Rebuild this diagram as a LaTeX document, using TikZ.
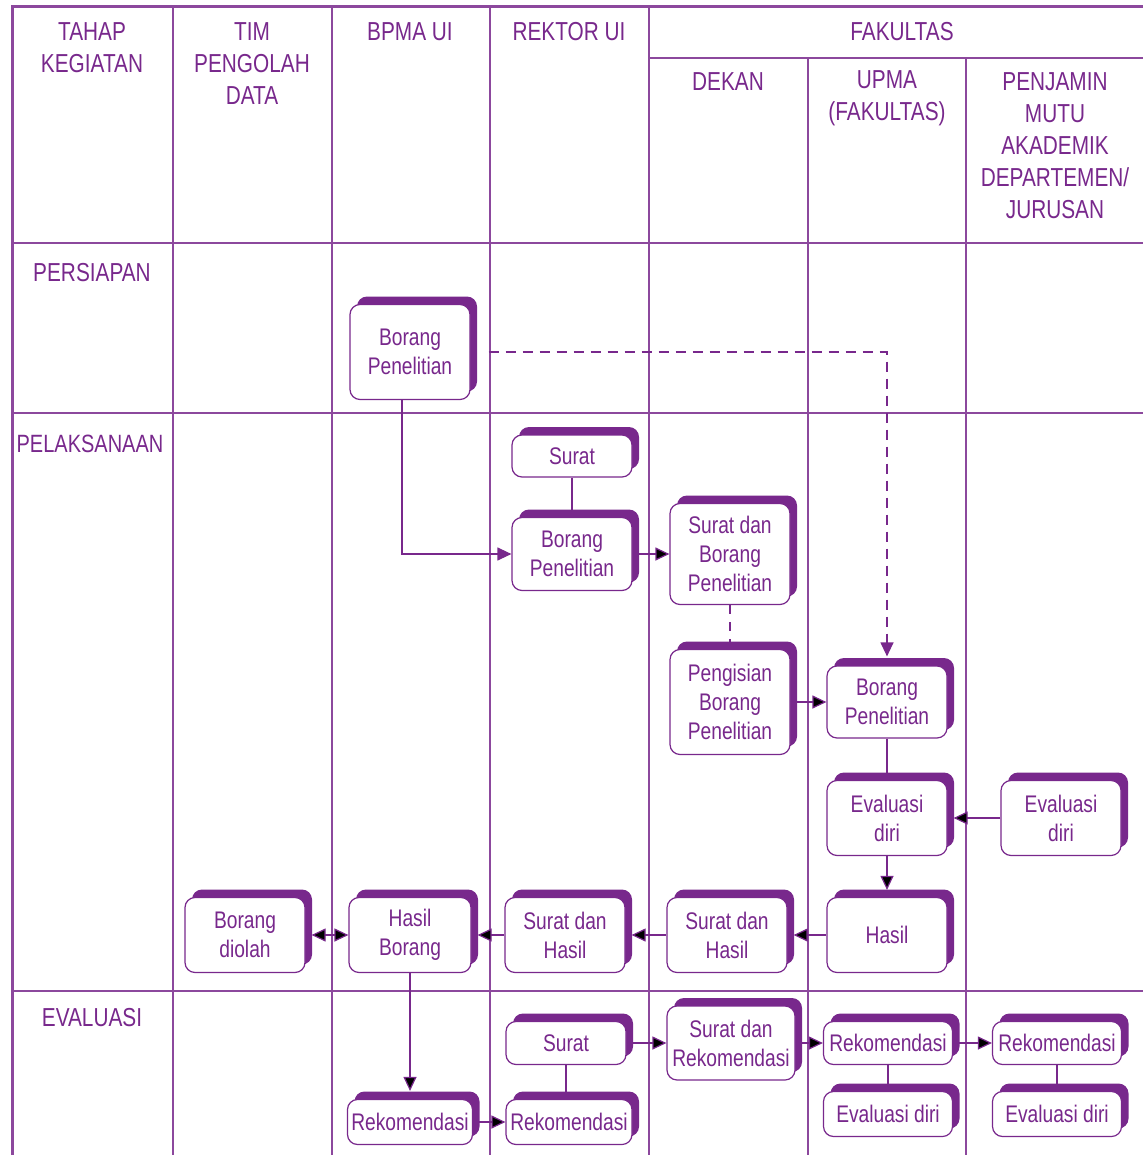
\documentclass[tikz,border=0pt]{standalone}
\usepackage{fontspec}
\setmainfont{Liberation Sans}[FakeStretch=0.8]
\usetikzlibrary{arrows.meta,shadows}
\definecolor{purp}{RGB}{120,40,140}

\begin{document}
\begin{tikzpicture}[x=1pt,y=-1pt,>={Triangle[length=14pt,width=13pt]},
                    semithick]
    \tikzset{grid/.style={draw=purp!85,line width=1.2pt},
             head/.style={text=purp,inner sep=0pt,align=center,
                          font=\fontsize{26}{32}\selectfont},
             box/.style={draw=purp,line width=1.2pt,fill=white,rounded corners=10pt,
                         text=purp,align=center,inner sep=1pt,minimum width=120pt,
                         font=\fontsize{24}{29}\selectfont,
                         drop shadow={shadow xshift=7pt,shadow yshift=8pt,fill=purp,opacity=1}},
             link/.style={draw=purp,line width=1.2pt}}
    \useasboundingbox (0,0) rectangle (1143,1155);
    % table
    \draw[grid,line width=3pt] (12,1155) -- (12,7) -- (1143,7);
    \foreach \x in {173,332,490,649}
        \draw[grid] (\x,7) -- (\x,1155);
    \foreach \x in {808,966}
        \draw[grid] (\x,58) -- (\x,1155);
    \draw[grid] (649,58) -- (1143,58);
    \foreach \y in {243,413,991}
        \draw[grid] (12,\y) -- (1143,\y);
    % headers
    \node[head] (tahap) at (92,48) {TAHAP\\KEGIATAN};
    \node[head] (tim) at (252,64) {TIM\\PENGOLAH\\DATA};
    \node[head] (bpmahead) at (410,32) {BPMA UI};
    \node[head] (rektorhead) at (569,32) {REKTOR UI};
    \node[head] (fakultas) at (902,32) {FAKULTAS};
    \node[head] (dekan) at (728,82) {DEKAN};
    \node[head] (upmahead) at (887,98) {UPMA\\(FAKULTAS)};
    \node[head] (pma) at (1055,146) {PENJAMIN\\MUTU\\AKADEMIK\\DEPARTEMEN/\\JURUSAN};
    \node[head] (persiapan) at (92,273) {PERSIAPAN};
    \node[head,font=\fontsize{25}{32}\selectfont] (pelaksanaan) at (90,444) {PELAKSANAAN};
    \node[head] (evaluasi) at (92,1018) {EVALUASI};
    % boxes
    \node[box,minimum height=95pt] (bpma) at (410,352) {Borang\\Penelitian};
    \node[box,minimum height=42pt] (surat) at (572,456) {Surat};
    \node[box,minimum height=73pt] (borang) at (572,554) {Borang\\Penelitian};
    \node[box,minimum height=101pt] (dekanborang) at (730,554) {Surat dan\\Borang\\Penelitian};
    \node[box,minimum height=105pt] (isi) at (730,702) {Pengisian\\Borang\\Penelitian};
    \node[box,minimum height=72pt] (upma) at (887,702) {Borang\\Penelitian};
    \node[box,minimum height=75pt] (evupma) at (887,818) {Evaluasi\\diri};
    \node[box,minimum height=75pt] (evpma) at (1061,818) {Evaluasi\\diri};
    \node[box,minimum height=75pt] (hasil) at (887,935) {Hasil};
    \node[box,minimum height=75pt] (dekanhasil) at (727,935) {Surat dan\\Hasil};
    \node[box,minimum height=75pt] (rektorhasil) at (565,935) {Surat dan\\Hasil};
    \node[box,minimum height=75pt,minimum width=122pt] (hasilborang) at (410,935) {Hasil\\Borang};
    \node[box,minimum height=75pt] (diolah) at (245,935) {Borang\\diolah};
    \node[box,minimum height=43pt] (suratev) at (566,1043) {Surat};
    \node[box,minimum height=45pt,minimum width=126pt] (rekrektor) at (569,1122) {Rekomendasi};
    \node[box,minimum height=45pt,minimum width=125pt] (rekbpma) at (410,1122) {Rekomendasi};
    \node[box,minimum height=74pt,minimum width=128pt] (rekdekan) at (731,1043) {Surat dan\\Rekomendasi};
    \node[box,minimum height=43pt,minimum width=129pt] (rekupma) at (888,1043) {Rekomendasi};
    \node[box,minimum height=45pt,minimum width=129pt] (evdiriupma) at (888,1114) {Evaluasi diri};
    \node[box,minimum height=43pt,minimum width=129pt] (rekpma) at (1057,1043) {Rekomendasi};
    \node[box,minimum height=45pt,minimum width=129pt] (evdiripma) at (1057,1114) {Evaluasi diri};
    % connectors
    \draw[link,->] ([xshift=-8pt]bpma.south) |- (borang.west);
    \draw[link,->,dash pattern=on 10pt off 7pt,shorten <=18pt,shorten >=9pt]
        (bpma.east) -| (upma.north);
    \draw[link] (suratev.south) -- (suratev.south |- rekrektor.north);
    \path[link]
    (surat) edge (borang)
    (borang) edge[->] (dekanborang)
    (dekanborang) edge[dash pattern=on 9pt off 8pt] (isi)
    (isi) edge[->] (upma)
    (upma) edge (evupma)
    (evpma) edge[->,shorten >=6pt] (evupma)
    (evupma) edge[->,shorten >=7pt] (hasil)
    (hasil) edge[->,shorten >=6pt] (dekanhasil)
    (dekanhasil) edge[->,shorten >=6pt] (rektorhasil)
    (rektorhasil) edge[->,shorten >=6pt] (hasilborang)
    (hasilborang) edge[<->,shorten >=6pt] (diolah)
    (hasilborang) edge[->,shorten >=8pt] (rekbpma)
    (rekbpma) edge[->] (rekrektor)
    (suratev) edge[->] (rekdekan)
    (rekdekan) edge[->] (rekupma)
    (rekupma) edge[->] (rekpma)
    (rekupma) edge (evdiriupma)
    (rekpma) edge (evdiripma);
\end{tikzpicture}
\end{document}
